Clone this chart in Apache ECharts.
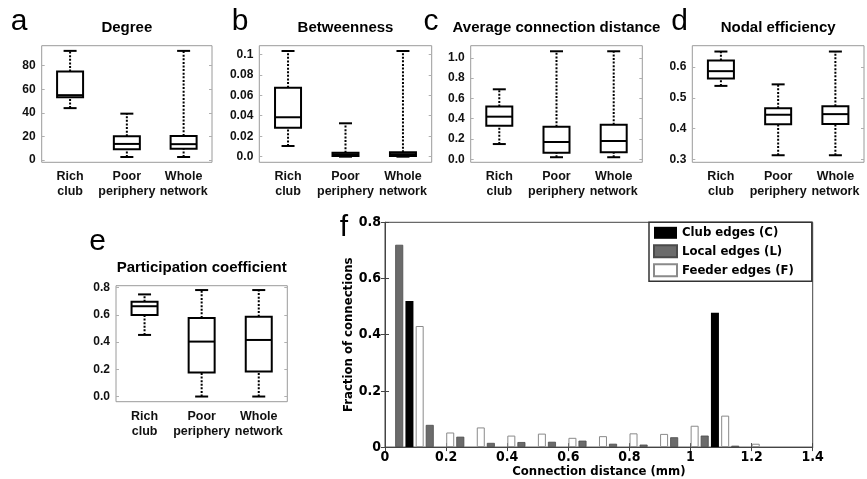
<!DOCTYPE html>
<html>
<head>
<meta charset="utf-8">
<script src="https://cdn.jsdelivr.net/npm/echarts@6/dist/echarts.min.js"></script>
<style>
html, body { margin: 0; padding: 0; background: #fff; }
#chart { width: 867px; height: 479px; }
</style>
</head>
<body>
<div id="chart"></div>
<script>
// ---- data ----
var groups = ['Rich\nclub', 'Poor\nperiphery', 'Whole\nnetwork'];

// each row: [min, Q1, median, Q3, max]
var degree = [[44, 53.2, 55, 75, 92.6], [2.5, 9, 13.6, 20.1, 39.3], [2.5, 9.4, 13.4, 20.4, 92.6]];
var betweenness = [[0.0104, 0.0283, 0.0385, 0.0674, 0.1032], [0, 0.0006, 0.0024, 0.0038, 0.0326], [0, 0.0006, 0.0025, 0.0042, 0.1032]];
var avgDistance = [[0.15, 0.33, 0.42, 0.52, 0.69], [0.02, 0.065, 0.17, 0.32, 1.065], [0.02, 0.07, 0.18, 0.34, 1.065]];
var nodalEfficiency = [[0.539, 0.563, 0.587, 0.622, 0.651], [0.313, 0.414, 0.445, 0.466, 0.544], [0.313, 0.415, 0.447, 0.473, 0.651]];
var participation = [[0.453, 0.6, 0.664, 0.697, 0.751], [0, 0.176, 0.404, 0.578, 0.783], [0, 0.184, 0.416, 0.587, 0.783]];

var degreeTicks = [0, 20, 40, 60, 80];
var betweennessTicks = [0, 0.02, 0.04, 0.06, 0.08, 0.1];
var distanceTicks = [0, 0.2, 0.4, 0.6, 0.8, 1.0];
var efficiencyTicks = [0.3, 0.4, 0.5, 0.6];
var participationTicks = [0, 0.2, 0.4, 0.6, 0.8];

// panel f: histogram of connection distance
var binCenters = [0.08, 0.18, 0.28, 0.38, 0.48, 0.58, 0.68, 0.78, 0.88, 0.98, 1.08, 1.18];
var clubEdges = [0.52, 0, 0, 0, 0, 0, 0, 0, 0, 0, 0.478, 0];
var localEdges = [0.72, 0.079, 0.037, 0.015, 0.018, 0.019, 0.023, 0.012, 0.009, 0.035, 0.041, 0.005];
var feederEdges = [0.431, 0.052, 0.07, 0.041, 0.048, 0.033, 0.039, 0.049, 0.047, 0.076, 0.112, 0.012];

// ---- layout ----
var helv = '"Liberation Sans", Arial, Helvetica, sans-serif';
var djv = '"DejaVu Sans Condensed", "DejaVu Sans", sans-serif';

function oneDecimal(v) { return v.toFixed(1); }

var panels = [
    {letter: 'a', letterAt: [19, 21.3], title: 'Degree', stats: degree, ticks: degreeTicks,
        min: -2, max: 97, rect: [41.7, 45.7, 170.3, 116.6], label: function (v) { return String(v); }},
    {letter: 'b', letterAt: [240, 21.3], title: 'Betweenness', stats: betweenness, ticks: betweennessTicks,
        min: -0.0055, max: 0.1084, rect: [259.3, 45.7, 172.4, 116.6],
        label: function (v) { return v === 0 ? '0.0' : String(+v.toFixed(2)); }},
    {letter: 'c', letterAt: [431, 21.3], title: 'Average connection distance', stats: avgDistance, ticks: distanceTicks,
        min: -0.03, max: 1.12, rect: [470.7, 45.7, 171.6, 116.6], label: oneDecimal},
    {letter: 'd', letterAt: [679.5, 21.3], title: 'Nodal efficiency', stats: nodalEfficiency, ticks: efficiencyTicks,
        min: 0.29, max: 0.67, rect: [692.3, 45.7, 171.7, 116.6], label: oneDecimal},
    {letter: 'e', letterAt: [97.5, 241.3], title: 'Participation coefficient', stats: participation, ticks: participationTicks,
        min: -0.038, max: 0.815, rect: [116, 285.7, 171.3, 116], label: oneDecimal}
];

var BOX_W = 26;
var CAP_W = 13;

function renderBox(params, api) {
    var i = api.value(0);
    var y = [];
    for (var k = 1; k <= 5; k++) {
        y.push(api.coord([i, api.value(k)])[1]);
    }
    var cx = api.coord([i, api.value(3)])[0];
    var dotted = {stroke: '#000', lineWidth: 2, lineDash: [2, 1.6], fill: null};
    var solid = {stroke: '#000', lineWidth: 2, fill: null};
    return {
        type: 'group',
        children: [
            {type: 'line', shape: {x1: cx, y1: y[3], x2: cx, y2: y[4]}, style: dotted},
            {type: 'line', shape: {x1: cx, y1: y[0], x2: cx, y2: y[1]}, style: dotted},
            {type: 'line', shape: {x1: cx - CAP_W / 2, y1: y[4], x2: cx + CAP_W / 2, y2: y[4]}, style: solid},
            {type: 'line', shape: {x1: cx - CAP_W / 2, y1: y[0], x2: cx + CAP_W / 2, y2: y[0]}, style: solid},
            {type: 'rect', shape: {x: cx - BOX_W / 2, y: y[3], width: BOX_W, height: y[1] - y[3]},
                style: {stroke: '#000', lineWidth: 2, fill: '#fff'}},
            {type: 'line', shape: {x1: cx - BOX_W / 2, y1: y[2], x2: cx + BOX_W / 2, y2: y[2]}, style: solid}
        ]
    };
}

var option = {
    animation: false,
    backgroundColor: '#fff',
    grid: [],
    xAxis: [],
    yAxis: [],
    series: [],
    graphic: []
};

panels.forEach(function (p, n) {
    option.grid.push({
        left: p.rect[0], top: p.rect[1], width: p.rect[2], height: p.rect[3],
        show: true, borderColor: '#9a9a9a', borderWidth: 1
    });
    option.xAxis.push({
        type: 'category', gridIndex: n, data: groups,
        axisLine: {show: false}, axisTick: {show: false},
        axisLabel: {interval: 0, margin: 7, lineHeight: 15, fontSize: 12.5, fontWeight: 'bold',
            fontFamily: helv, color: '#111'}
    });
    var yBase = {
        type: 'value', gridIndex: n, min: p.min, max: p.max,
        splitLine: {show: false}, axisLine: {show: false},
        axisTick: {show: true, inside: true, length: 3, customValues: p.ticks, lineStyle: {color: '#b0b0b0'}}
    };
    option.yAxis.push(Object.assign({}, yBase, {
        position: 'left',
        axisLabel: {customValues: p.ticks, formatter: p.label, margin: 6, fontSize: 12, fontWeight: 'bold',
            fontFamily: helv, color: '#111'}
    }));
    option.yAxis.push(Object.assign({}, yBase, {position: 'right', axisLabel: {show: false}}));
    option.series.push({
        type: 'custom', xAxisIndex: n, yAxisIndex: 2 * n,
        renderItem: renderBox,
        encode: {x: 0, y: [1, 2, 3, 4, 5]},
        data: p.stats.map(function (s, i) { return [i].concat(s); })
    });
    option.graphic.push({
        type: 'text', x: p.letterAt[0], y: p.letterAt[1],
        style: {text: p.letter, font: '30px ' + helv, fill: '#000', align: 'center', verticalAlign: 'middle',
            textAlign: 'center', textVerticalAlign: 'middle'}
    });
    option.graphic.push({
        type: 'text', x: p.rect[0] + p.rect[2] / 2, y: p.rect[1] - 17.7,
        style: {text: p.title, font: 'bold 15px ' + helv, fill: '#000', align: 'center', verticalAlign: 'middle',
            textAlign: 'center', textVerticalAlign: 'middle'}
    });
});

// ---- panel f ----
var fg = panels.length;
option.grid.push({left: 385, top: 222.3, width: 427.7, height: 226.4, show: true, borderColor: '#444', borderWidth: 1});

var fLabel = {fontFamily: djv, fontWeight: 'bold', fontSize: 14, color: '#000'};
var fTick = {show: true, inside: true, length: 4, lineStyle: {color: '#444'}};

option.xAxis.push({
    type: 'value', gridIndex: fg, min: 0, max: 1.4, interval: 0.2, position: 'bottom',
    splitLine: {show: false}, axisLine: {show: true, lineStyle: {color: '#444'}}, axisTick: fTick,
    axisLabel: Object.assign({margin: 3}, fLabel),
    name: 'Connection distance (mm)', nameLocation: 'middle', nameGap: 16,
    nameTextStyle: {fontFamily: djv, fontWeight: 'bold', fontSize: 13, color: '#000'}
});
option.xAxis.push({
    type: 'value', gridIndex: fg, min: 0, max: 1.4, interval: 0.2, position: 'top',
    splitLine: {show: false}, axisLine: {show: true, lineStyle: {color: '#444'}}, axisTick: fTick,
    axisLabel: {show: false}
});
option.yAxis.push({
    type: 'value', gridIndex: fg, min: 0, max: 0.8, interval: 0.2, position: 'left',
    splitLine: {show: false}, axisLine: {show: true, lineStyle: {color: '#444'}}, axisTick: fTick,
    axisLabel: Object.assign({margin: 4}, fLabel),
    name: 'Fraction of connections', nameLocation: 'middle', nameGap: 26,
    nameTextStyle: {fontFamily: djv, fontWeight: 'bold', fontSize: 13, color: '#000'}
});
option.yAxis.push({
    type: 'value', gridIndex: fg, min: 0, max: 0.8, interval: 0.2, position: 'right',
    splitLine: {show: false}, axisLine: {show: true, lineStyle: {color: '#444'}}, axisTick: fTick,
    axisLabel: {show: false}
});

var fy = 2 * panels.length;   // index of f's left y axis

function histData(values) {
    return values.map(function (v, k) { return [binCenters[k], v]; });
}

option.series.push(
    {name: 'Local edges (L)', type: 'bar', xAxisIndex: fg, yAxisIndex: fy, barWidth: 8, barGap: '28%',
        itemStyle: {color: '#6b6b6b', borderColor: '#4a4a4a', borderWidth: 0.8}, data: histData(localEdges)},
    {name: 'Club edges (C)', type: 'bar', xAxisIndex: fg, yAxisIndex: fy, barWidth: 8, barGap: '28%',
        itemStyle: {color: '#000'}, data: histData(clubEdges)},
    {name: 'Feeder edges (F)', type: 'bar', xAxisIndex: fg, yAxisIndex: fy, barWidth: 8, barGap: '28%',
        itemStyle: {color: '#fff', borderColor: '#8a8a8a', borderWidth: 1}, data: histData(feederEdges)}
);

option.legend = {
    data: ['Club edges (C)', 'Local edges (L)', 'Feeder edges (F)'],
    icon: 'rect',
    orient: 'vertical', left: 649, top: 222.3,
    itemWidth: 23, itemHeight: 12, itemGap: 5,
    padding: [4, 18, 4, 4],
    borderColor: '#333', borderWidth: 1.5, backgroundColor: '#fff',
    textStyle: {fontFamily: djv, fontWeight: 'bold', fontSize: 13, color: '#000'}
};

option.graphic.push({
    type: 'text', x: 344, y: 227.6,
    style: {text: 'f', font: '30px ' + helv, fill: '#000', align: 'center', verticalAlign: 'middle',
        textAlign: 'center', textVerticalAlign: 'middle'}
});

var chart = echarts.init(document.getElementById('chart'));
chart.setOption(option);
</script>
</body>
</html>
